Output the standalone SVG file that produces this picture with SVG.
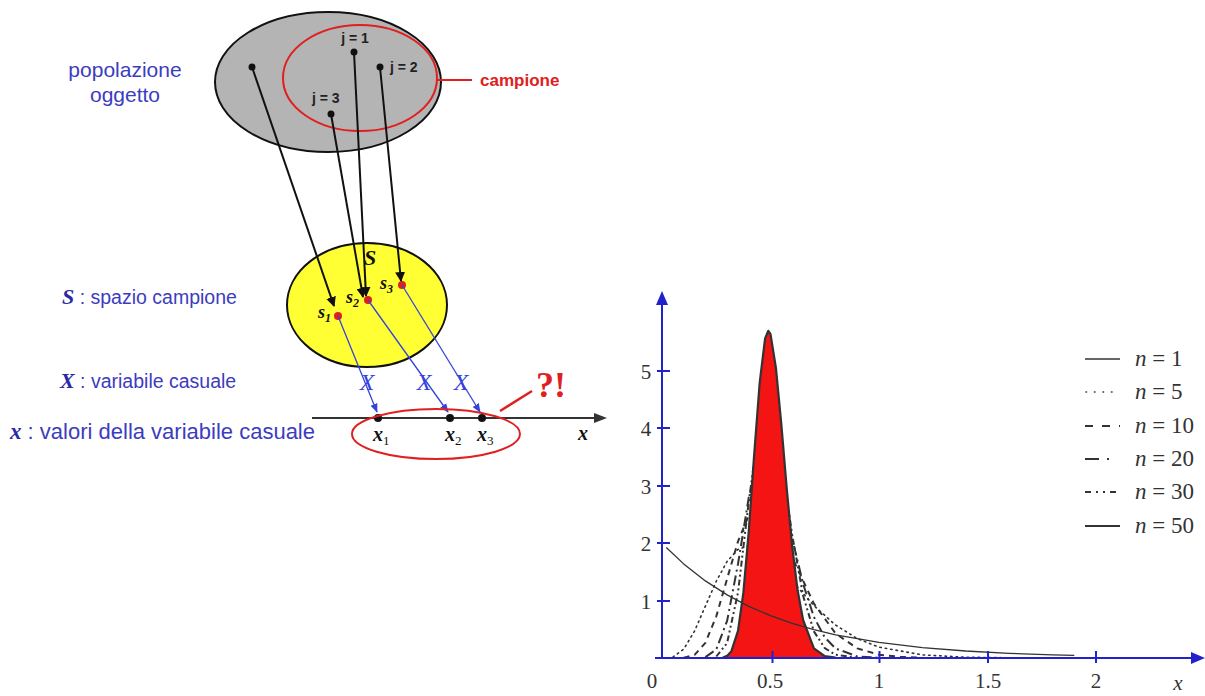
<svg xmlns="http://www.w3.org/2000/svg" width="1205" height="696" viewBox="0 0 1205 696">
<style>
.lbl{font-family:"Liberation Sans",Arial,sans-serif;fill:#3c3cc0;font-size:19px}
.mb{font-family:"Liberation Serif","Times New Roman",serif;font-style:italic;font-weight:bold}
.jl{font-family:"Liberation Sans",Arial,sans-serif;font-weight:bold;font-size:14px;fill:#222}
.tick{font-family:"Liberation Serif","Times New Roman",serif;font-size:21px;fill:#333}
.leg{font-family:"Liberation Serif","Times New Roman",serif;font-size:23px;fill:#333}
.bx{font-family:"Liberation Serif","Times New Roman",serif;font-style:italic;font-size:24px;fill:#3344dd}
.blk{stroke:#111;stroke-width:2;fill:none}
.blu{stroke:#3344dd;stroke-width:1.3;fill:none}
.ax{stroke:#2222cc;stroke-width:2;fill:none}
.crv{fill:none;stroke:#333;stroke-linejoin:round}
</style>
<defs>
<marker id="ab" viewBox="0 0 10 10" refX="9" refY="5" markerWidth="5" markerHeight="5" orient="auto"><path d="M0,0 L10,5 L0,10 z" fill="#111"/></marker>
<marker id="au" viewBox="0 0 10 10" refX="9" refY="5" markerWidth="7" markerHeight="7" orient="auto"><path d="M0,1 L10,5 L0,9 z" fill="#3344dd"/></marker>
</defs>
<rect width="1205" height="696" fill="#fff"/>

<g id="popolazione">
<ellipse cx="328" cy="82" rx="113" ry="70" fill="#b4b4b4" stroke="#111" stroke-width="2"/>
<text class="lbl" x="125" y="77" text-anchor="middle" style="font-size:21px">popolazione</text>
<text class="lbl" x="125" y="102" text-anchor="middle" style="font-size:21px">oggetto</text>
</g>
<g id="campione">
<ellipse cx="360" cy="78" rx="77" ry="53" fill="none" stroke="#e02020" stroke-width="2"/>
<line x1="437" y1="80" x2="472" y2="80" stroke="#e02020" stroke-width="2"/>
<text x="480" y="86" font-family="Liberation Sans, Arial, sans-serif" font-weight="bold" font-size="17" fill="#e02020">campione</text>
<text class="jl" x="355" y="43" text-anchor="middle">j = 1</text>
<text class="jl" x="390" y="72">j = 2</text>
<text class="jl" x="312" y="103">j = 3</text>
<circle cx="252" cy="67" r="3.5" fill="#111"/>
<circle cx="354" cy="52" r="3.5" fill="#111"/>
<circle cx="380" cy="67" r="3.5" fill="#111"/>
<circle cx="331" cy="114" r="3.5" fill="#111"/>
</g>

<g id="spazio">
<ellipse cx="367" cy="305" rx="80" ry="62" fill="#ffff33" stroke="#111" stroke-width="2"/>
<text class="mb" x="364" y="265" font-size="22" fill="#111">S</text>
<circle cx="338" cy="316" r="4" fill="#e02020"/>
<circle cx="368" cy="300" r="4" fill="#e02020"/>
<circle cx="402" cy="285" r="4" fill="#e02020"/>
<text class="mb" x="318" y="318" font-size="18" fill="#111">s<tspan font-size="12" dy="4">1</tspan></text>
<text class="mb" x="346" y="303" font-size="18" fill="#111">s<tspan font-size="12" dy="4">2</tspan></text>
<text class="mb" x="380" y="289" font-size="18" fill="#111">s<tspan font-size="12" dy="4">3</tspan></text>
</g>

<g id="connectors">
<line class="blk" x1="252" y1="67" x2="334" y2="306" marker-end="url(#ab)"/>
<line class="blk" x1="354" y1="52" x2="366" y2="296" marker-end="url(#ab)"/>
<line class="blk" x1="331" y1="114" x2="363" y2="297" marker-end="url(#ab)"/>
<line class="blk" x1="380" y1="67" x2="401" y2="281" marker-end="url(#ab)"/>
<line class="blu" x1="338" y1="316" x2="377" y2="412" marker-end="url(#au)"/>
<line class="blu" x1="368" y1="300" x2="448" y2="412" marker-end="url(#au)"/>
<line class="blu" x1="402" y1="285" x2="480" y2="412" marker-end="url(#au)"/>
<text class="bx" x="367" y="390" text-anchor="middle">X</text>
<text class="bx" x="424" y="390" text-anchor="middle">X</text>
<text class="bx" x="461" y="390" text-anchor="middle">X</text>
</g>

<g id="asse">
<line x1="312" y1="418" x2="598" y2="418" stroke="#333" stroke-width="2"/>
<polygon points="607,418 594,413 594,423" fill="#333"/>
<circle cx="378" cy="418" r="4" fill="#111"/>
<circle cx="450" cy="418" r="4" fill="#111"/>
<circle cx="482" cy="418" r="4" fill="#111"/>
<text class="mb" x="373" y="441" font-size="20" fill="#111">x<tspan font-size="13" dy="4" font-weight="normal" font-style="normal">1</tspan></text>
<text class="mb" x="445" y="441" font-size="20" fill="#111">x<tspan font-size="13" dy="4" font-weight="normal" font-style="normal">2</tspan></text>
<text class="mb" x="477" y="441" font-size="20" fill="#111">x<tspan font-size="13" dy="4" font-weight="normal" font-style="normal">3</tspan></text>
<text class="mb" x="578" y="440" font-size="20" fill="#111">x</text>
<ellipse cx="436" cy="434" rx="84" ry="25" fill="none" stroke="#e02020" stroke-width="2"/>
<line x1="500" y1="411" x2="532" y2="391" stroke="#e02020" stroke-width="2.5"/>
<text x="536" y="397" font-family="Liberation Serif, serif" font-weight="bold" font-size="36" fill="#e02020">?!</text>
</g>

<g id="legenda-sinistra">
<text x="62" y="304"><tspan class="mb" font-size="22" fill="#2a2aa8">S</tspan><tspan class="lbl" style="font-size:19.5px"> : spazio campione</tspan></text>
<text x="60" y="388"><tspan class="mb" font-size="22" fill="#2a2aa8">X</tspan><tspan class="lbl" style="font-size:19.5px"> : variabile casuale</tspan></text>
<text x="10" y="439"><tspan class="mb" font-size="23" fill="#2a2aa8">x</tspan><tspan class="lbl" style="font-size:22px"> : valori della variabile casuale</tspan></text>
</g>

<g id="grafico">
<polyline class="crv" stroke-width="1.6" stroke-dasharray="1.5 4" stroke-linecap="round" points="672.9,657.1 683.7,649.2 694.6,630.9 705.4,606.1 716.3,581.2 727.1,561.4 738,549.4 748.8,545.6 759.7,548.9 770.5,557.1 792.2,581 813.9,605.6 835.6,625.1 857.3,638.6 879,647.1 922.4,654.9 965.8,657.2 1009.2,657.8"/>
<polyline class="crv" stroke-width="2" stroke-dasharray="6 5" points="683.7,657.8 694.6,654.9 705.4,642.8 716.3,616.3 727.1,578.8 738,541.4 748.8,515.3 759.7,506.5 770.5,514.1 781.4,533.2 792.2,557.5 813.9,603.6 835.6,633.5 857.3,648.4 879,654.7 900.7,656.9 922.4,657.7"/>
<polyline class="crv" stroke-width="2" stroke-dasharray="10 4 2 4" points="705.4,657.1 716.3,649.4 727.1,620.9 738,564 748.8,497.2 759.7,454 770.5,453.7 781.4,488.9 792.2,538.5 803.1,583.9 813.9,617 824.8,637.4 835.6,648.5 857.3,656.4 879,657.8"/>
<polyline class="crv" stroke-width="2" stroke-dasharray="6 3 2 3 2 3" points="716.3,656.5 727.1,643 738,592.6 748.8,501.6 759.7,420.9 765.1,404.3 770.5,407.4 781.4,460.1 792.2,535.1 803.1,595.7 813.9,631.4 824.8,648.2 835.6,654.8 857.3,657.8"/>
<polygon fill="#f41414" points="722.8,658 727.1,655.9 731.4,651.2 738,630.8 743.4,592.4 748.8,530.8 754.2,454.2 759.7,382.7 765.1,338.4 768.3,330.8 770.5,334.1 775.9,367.6 781.4,425.1 786.8,489.2 792.2,546.5 797.6,590.3 803.1,620 813.9,648.3 824.8,656.1 835.6,658"/>
<polyline class="crv" stroke-width="2.2" points="722.8,657.5 727.1,655.9 731.4,651.2 738,630.8 743.4,592.4 748.8,530.8 754.2,454.2 759.7,382.7 765.1,338.4 768.3,330.8 770.5,334.1 775.9,367.6 781.4,425.1 786.8,489.2 792.2,546.5 797.6,590.3 803.1,620 813.9,648.3 824.8,656.1 835.6,657.7"/>
<polyline class="crv" stroke-width="1.3" points="666.3,547.5 683.7,563.9 705.4,580.9 727.1,594.9 748.8,606.3 770.5,615.7 792.2,623.4 813.9,629.7 835.6,634.8 879,642.4 922.4,647.6 965.8,651 1009.2,653.3 1052.6,654.8 1074.3,655.4"/>

<line class="ax" x1="662" y1="659" x2="662" y2="302"/>
<polygon points="662,291 656,305 668,305" fill="#2222cc"/>
<line class="ax" x1="655" y1="658" x2="1192" y2="658"/>
<polygon points="1205,658 1191,652 1191,664" fill="#2222cc"/>
<g class="ax">
<line x1="657" y1="371" x2="670" y2="371"/>
<line x1="657" y1="428" x2="670" y2="428"/>
<line x1="657" y1="486" x2="670" y2="486"/>
<line x1="657" y1="543" x2="670" y2="543"/>
<line x1="657" y1="601" x2="670" y2="601"/>
<line x1="772.5" y1="651" x2="772.5" y2="663"/>
<line x1="879.5" y1="651" x2="879.5" y2="663"/>
<line x1="988" y1="651" x2="988" y2="663"/>
<line x1="1096" y1="651" x2="1096" y2="663"/>
</g>
<text class="tick" x="646" y="379" text-anchor="middle">5</text>
<text class="tick" x="646" y="436" text-anchor="middle">4</text>
<text class="tick" x="646" y="494" text-anchor="middle">3</text>
<text class="tick" x="646" y="551" text-anchor="middle">2</text>
<text class="tick" x="646" y="609" text-anchor="middle">1</text>
<text class="tick" x="652" y="688" text-anchor="middle">0</text>
<text class="tick" x="770" y="688" text-anchor="middle">0.5</text>
<text class="tick" x="879" y="688" text-anchor="middle">1</text>
<text class="tick" x="988" y="688" text-anchor="middle">1.5</text>
<text class="tick" x="1096" y="688" text-anchor="middle">2</text>
<text class="tick" x="1178" y="690" text-anchor="middle" font-style="italic">x</text>
</g>

<g id="legenda">
<line class="crv" x1="1085" y1="359" x2="1120" y2="359" stroke-width="1.3"/>
<line class="crv" x1="1086" y1="392" x2="1120" y2="392" stroke-width="1.6" stroke-dasharray="0.5 8" stroke-linecap="round"/>
<line class="crv" x1="1085" y1="426" x2="1120" y2="426" stroke-width="2" stroke-dasharray="8 9"/>
<line class="crv" x1="1085" y1="459" x2="1120" y2="459" stroke-width="2" stroke-dasharray="14 8 2 20"/>
<line class="crv" x1="1085" y1="492" x2="1120" y2="492" stroke-width="2" stroke-dasharray="6 5 2 5 2 5 6"/>
<line class="crv" x1="1085" y1="526" x2="1120" y2="526" stroke-width="2"/>
<text class="leg" x="1135" y="366"><tspan font-style="italic">n</tspan> = 1</text>
<text class="leg" x="1135" y="399"><tspan font-style="italic">n</tspan> = 5</text>
<text class="leg" x="1135" y="433"><tspan font-style="italic">n</tspan> = 10</text>
<text class="leg" x="1135" y="466"><tspan font-style="italic">n</tspan> = 20</text>
<text class="leg" x="1135" y="499"><tspan font-style="italic">n</tspan> = 30</text>
<text class="leg" x="1135" y="533"><tspan font-style="italic">n</tspan> = 50</text>
</g>
</svg>
